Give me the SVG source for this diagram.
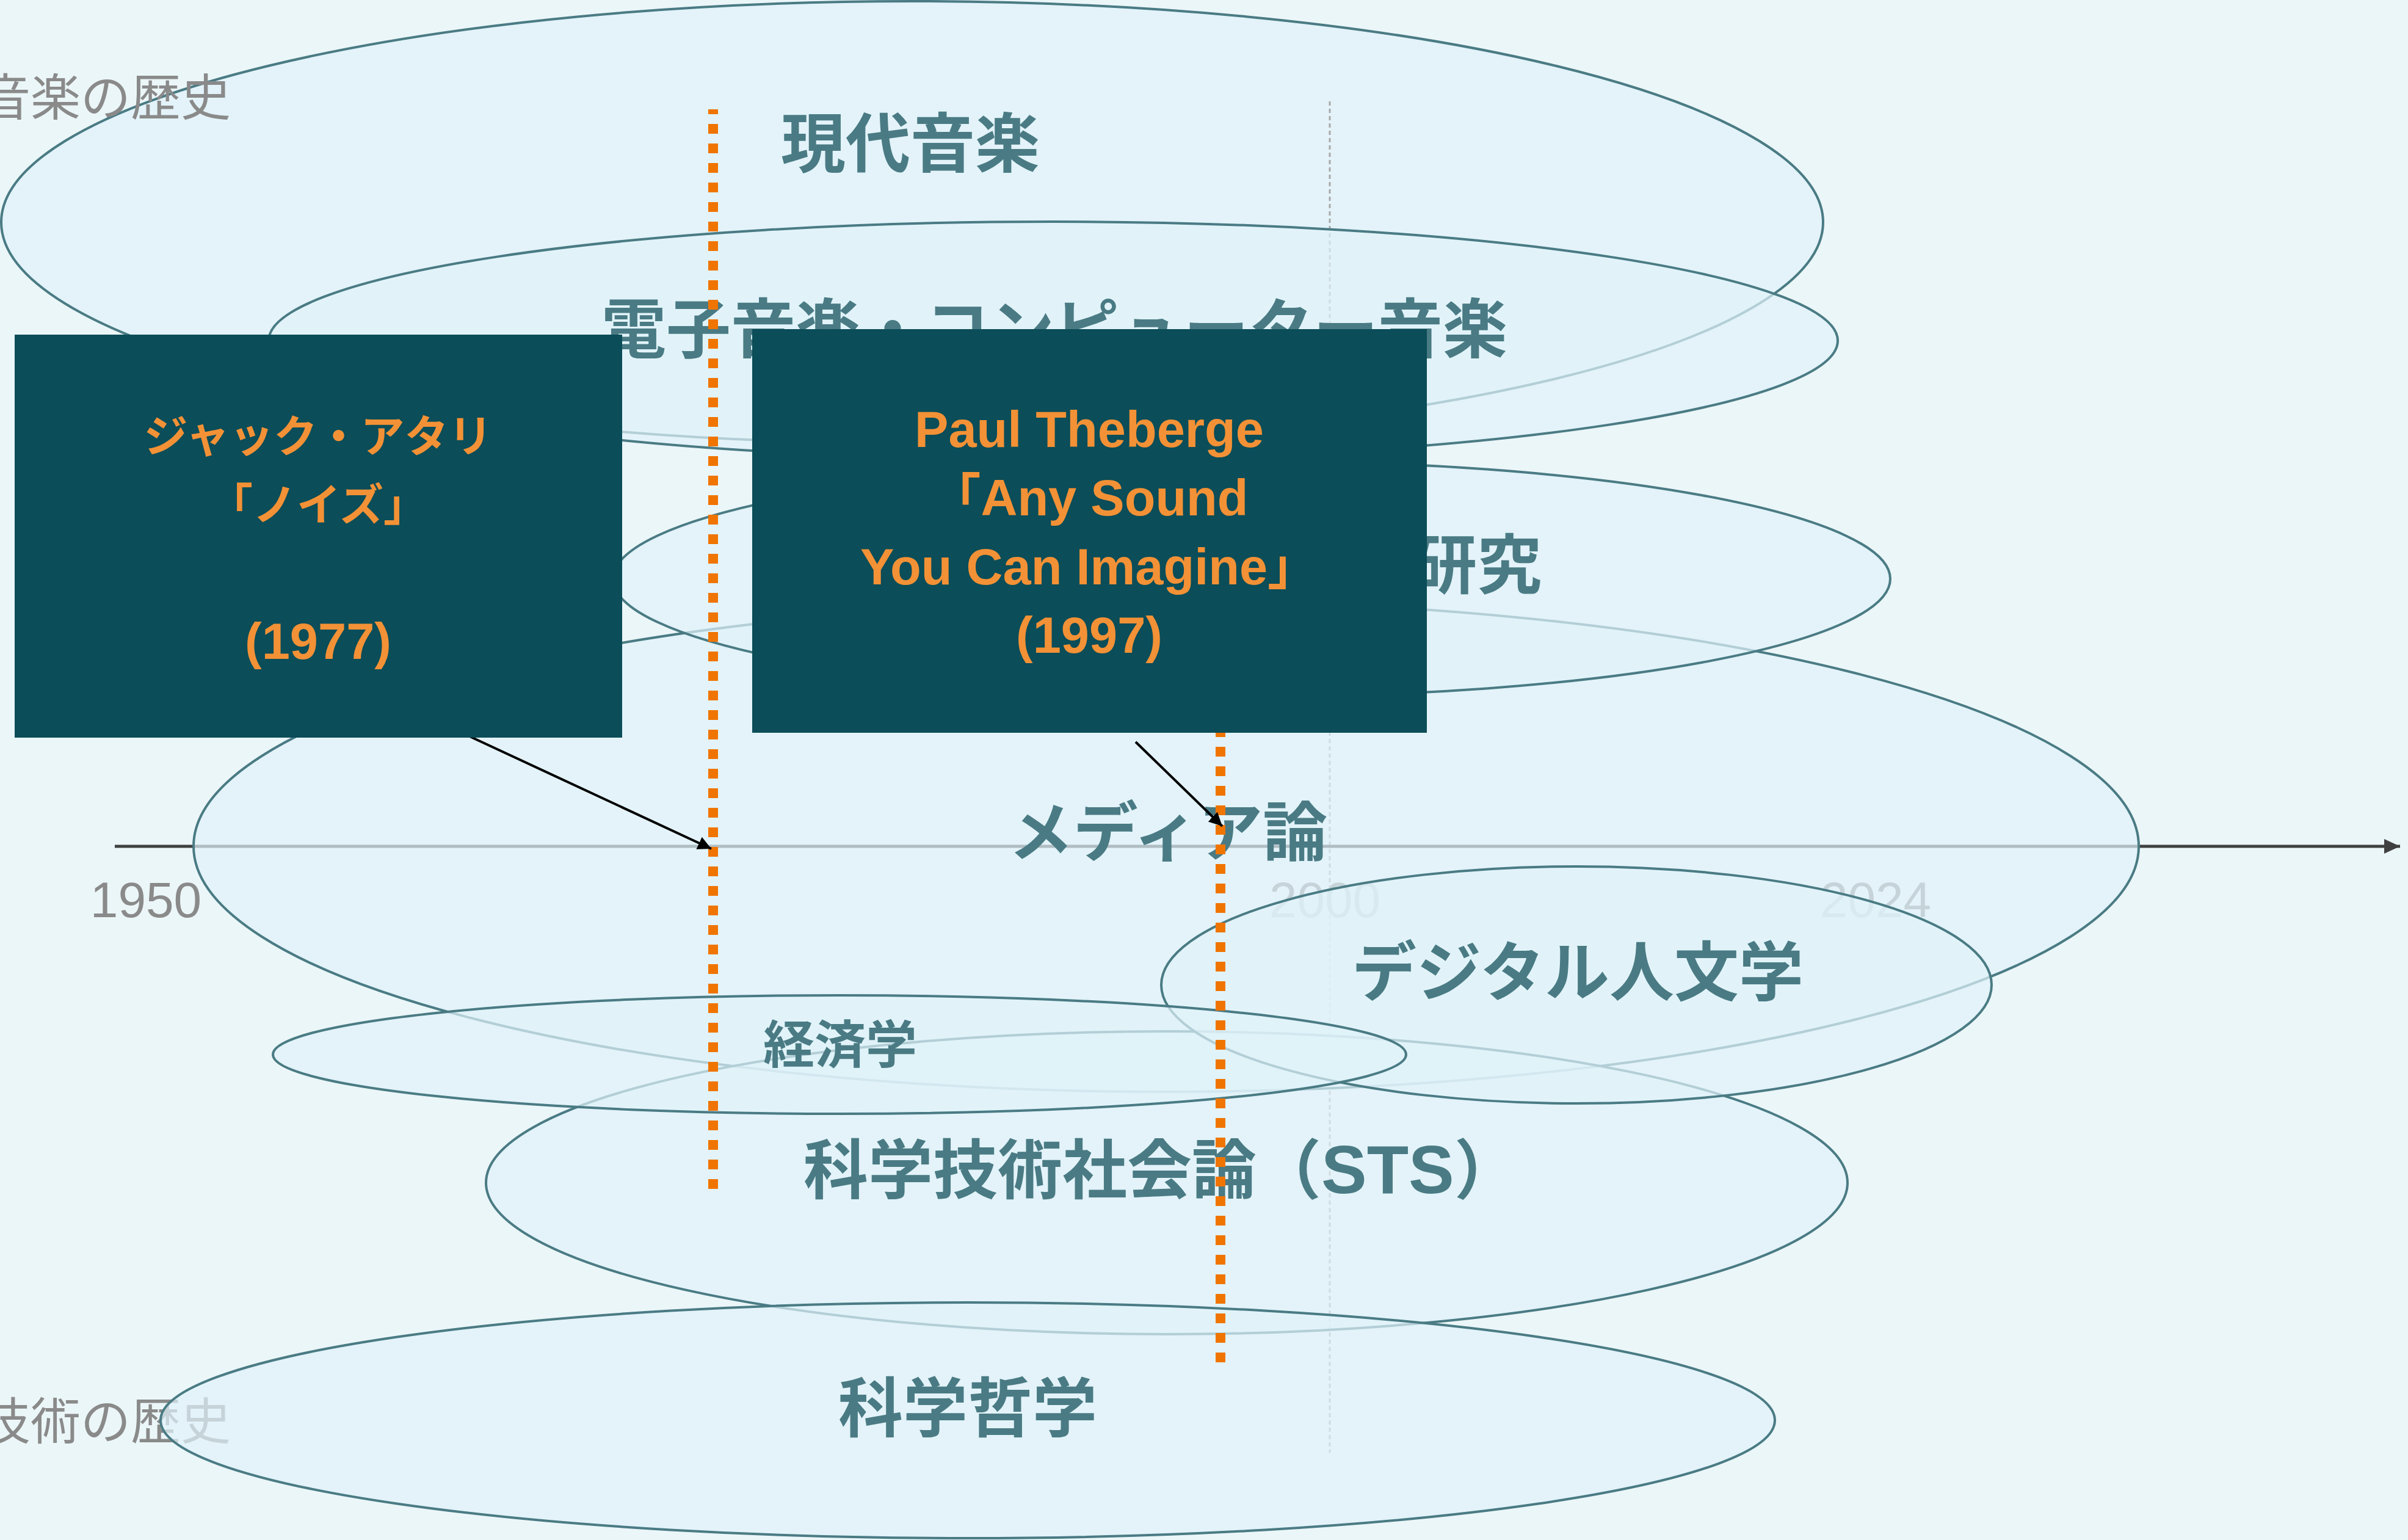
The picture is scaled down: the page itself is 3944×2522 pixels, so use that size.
<svg xmlns="http://www.w3.org/2000/svg" width="3944" height="2522" viewBox="0 0 3944 2522">
<style>
.field{fill:#e0f2fa;fill-opacity:0.7;stroke:#4a7b84;stroke-width:4}
.lbl{font-family:"Noto Sans CJK JP",sans-serif;font-weight:700;fill:#4a7b84;text-anchor:middle;font-size:106px}
.side{font-family:"Noto Sans CJK JP",sans-serif;font-weight:400;fill:#8a8a8a;font-size:82px;text-anchor:end}
.tick{font-family:"Liberation Sans",Arial,sans-serif;fill:#8a8a8a;font-size:82px;text-anchor:middle}
.box{fill:#0b4d58}
.bt{font-family:"Liberation Sans","Noto Sans CJK JP",sans-serif;font-weight:700;fill:#f39136;text-anchor:middle}
.jp{font-size:72px}
.en{font-size:83px}
.era{stroke:#f07400;stroke-width:16;stroke-dasharray:16 16;fill:none}
.ref{stroke:#000;stroke-width:4;fill:none;marker-end:url(#ah)}
</style>
<defs>
<marker id="ah" markerUnits="userSpaceOnUse" markerWidth="24" markerHeight="24" refX="22" refY="11" orient="auto"><path d="M0,0 L22,11 L0,22 z" fill="#000"/></marker>
<marker id="axh" markerUnits="userSpaceOnUse" markerWidth="28" markerHeight="26" refX="26" refY="12" orient="auto"><path d="M0,0 L26,12 L0,24 z" fill="#404040"/></marker>
</defs>
<rect width="3944" height="2522" fill="#ebf6f8"/>

<g id="node-gendai-ongaku">
<ellipse class="field" cx="1494" cy="364" rx="1492" ry="362"/>
<text class="lbl" x="1491" y="273">現代音楽</text>
</g>

<g id="timeline">
<line x1="2178" y1="166" x2="2178" y2="2379" stroke="#a9a9a9" stroke-width="3" stroke-dasharray="7 5"/>
<line x1="188" y1="1386" x2="3931" y2="1386" stroke="#404040" stroke-width="5" marker-end="url(#axh)"/>
<text class="tick" x="239" y="1502">1950</text>
<text class="tick" x="2170" y="1502">2000</text>
<text class="tick" x="3072" y="1502">2024</text>
<text class="side" x="378" y="189">音楽の歴史</text>
<text class="side" x="378" y="2357">技術の歴史</text>
</g>

<g id="node-denshi-ongaku">
<ellipse class="field" cx="1725" cy="558" rx="1285" ry="195"/>
<text class="lbl" x="1727" y="577">電子音楽・コンピューター音楽</text>
</g>

<g id="node-media">
<ellipse class="field" cx="1910" cy="1386" rx="1593" ry="402"/>
<text class="lbl" x="1913" y="1401">メディア論</text>
</g>

<g id="node-kenkyu">
<ellipse class="field" cx="2050" cy="948" rx="1046" ry="193"/>
<text class="lbl" x="2525" y="963" style="text-anchor:end">研究</text>
</g>

<g id="node-sts">
<ellipse class="field" cx="1911" cy="1937" rx="1115" ry="248"/>
<text class="lbl" x="1316" y="1954" style="text-anchor:start">科学技術社会論（<tspan font-family="Liberation Sans, Arial, sans-serif" font-size="112">STS</tspan>）</text>
</g>

<g id="node-dh">
<ellipse class="field" cx="2582" cy="1613" rx="680" ry="194"/>
<text class="lbl" x="2584" y="1630">デジタル人文学</text>
</g>

<g id="node-keizai">
<ellipse class="field" cx="1375" cy="1727" rx="928" ry="97"/>
<text class="lbl" x="1376" y="1741" font-size="84" style="font-size:84px">経済学</text>
</g>

<g id="node-tetsugaku">
<ellipse class="field" cx="1585" cy="2326" rx="1322" ry="193"/>
<text class="lbl" x="1585" y="2344">科学哲学</text>
</g>

<g id="era-markers">
<line class="era" x1="1168" y1="179" x2="1168" y2="1947" stroke-dashoffset="8"/>
<line class="era" x1="1999" y1="743" x2="1999" y2="2231"/>
</g>

<g id="connectors">
<line class="ref" x1="765" y1="1204" x2="1165" y2="1390"/>
<line class="ref" x1="1860" y1="1215" x2="2002" y2="1353" stroke-width="3.5"/>
</g>

<g id="node-attali">
<rect class="box" x="24" y="548" width="995" height="660"/>
<text class="bt jp" x="521" y="740">ジャック・アタリ</text>
<text class="bt jp" x="521" y="852">「ノイズ」</text>
<text class="bt en" x="521" y="1079">(1977)</text>
</g>

<g id="node-theberge">
<rect class="box" x="1232" y="539" width="1105" height="661"/>
<text class="bt en" x="1784" y="732">Paul Theberge</text>
<text class="bt en" x="1784" y="844">「Any Sound</text>
<text class="bt en" x="1784" y="957">You Can Imagine」</text>
<text class="bt en" x="1784" y="1069">(1997)</text>
</g>
</svg>
